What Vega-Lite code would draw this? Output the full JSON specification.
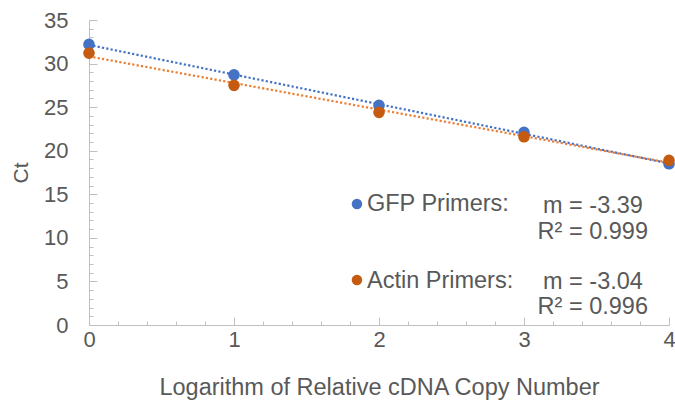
{
  "$schema": "https://vega.github.io/schema/vega-lite/v6.json",
  "width": 580,
  "height": 305,
  "autosize": "none",
  "padding": {"left": 89, "top": 20, "right": 6, "bottom": 75},
  "background": "white",
  "config": {
    "view": {"stroke": null},
    "font": "Liberation Sans",
    "axis": {"grid": false, "domainColor": "#BFBFBF", "tickColor": "#BFBFBF", "labelColor": "#595959", "titleColor": "#595959", "labelFont": "Liberation Sans", "titleFont": "Liberation Sans", "titleFontWeight": "normal", "labelFlush": false}
  },
  "datasets": {
    "pts": [
      {"x": 0, "ct": 32.2, "series": "GFP"},
      {"x": 1, "ct": 28.7, "series": "GFP"},
      {"x": 2, "ct": 25.2, "series": "GFP"},
      {"x": 3, "ct": 22.1, "series": "GFP"},
      {"x": 4, "ct": 18.5, "series": "GFP"},
      {"x": 0, "ct": 31.2, "series": "Actin"},
      {"x": 1, "ct": 27.5, "series": "Actin"},
      {"x": 2, "ct": 24.4, "series": "Actin"},
      {"x": 3, "ct": 21.6, "series": "Actin"},
      {"x": 4, "ct": 18.9, "series": "Actin"}
    ]
  },
  "resolve": {"axis": {"x": "independent", "y": "independent"}},
  "layer": [
    {
      "data": {"name": "pts"},
      "transform": [{"filter": "datum.series === 'GFP'"}, {"regression": "ct", "on": "x", "extent": [0, 4]}],
      "mark": {"type": "line", "color": "#4472C4", "strokeWidth": 2.2, "strokeDash": [2.2, 2.2]},
      "encoding": {
        "x": {"field": "x", "type": "quantitative", "scale": {"domain": [0, 4], "nice": false},
          "axis": {"orient": "bottom", "values": [0.2,0.4,0.6,0.8,1.2,1.4,1.6,1.8,2.2,2.4,2.6,2.8,3.2,3.4,3.6,3.8], "labels": false, "domain": false, "tickSize": -4, "title": null}},
        "y": {"field": "ct", "type": "quantitative", "scale": {"domain": [0, 35], "nice": false},
          "axis": {"orient": "left", "values": [1,2,3,4,6,7,8,9,11,12,13,14,16,17,18,19,21,22,23,24,26,27,28,29,31,32,33,34], "labels": false, "domain": false, "tickSize": -4, "title": null}}
      }
    },
    {
      "data": {"name": "pts"},
      "transform": [{"filter": "datum.series === 'Actin'"}, {"regression": "ct", "on": "x", "extent": [0, 4]}],
      "mark": {"type": "line", "color": "#ED7D31", "strokeWidth": 2.2, "strokeDash": [2.2, 2.2]},
      "encoding": {
        "x": {"field": "x", "type": "quantitative", "axis": null},
        "y": {"field": "ct", "type": "quantitative", "axis": null}
      }
    },
    {
      "data": {"name": "pts"},
      "mark": {"type": "circle", "size": 135, "opacity": 1},
      "encoding": {
        "x": {"field": "x", "type": "quantitative",
          "axis": {"orient": "bottom", "values": [0, 1, 2, 3, 4], "tickSize": -8, "labelFontSize": 22, "labelPadding": 12, "title": "Logarithm of Relative cDNA Copy Number", "titleFontSize": 23.5, "titlePadding": 25}},
        "y": {"field": "ct", "type": "quantitative",
          "axis": {"orient": "left", "values": [0, 5, 10, 15, 20, 25, 30, 35], "tickSize": -8, "labelFontSize": 22, "labelPadding": 29, "title": "Ct", "titleFontSize": 21, "titlePadding": 12}},
        "color": {"field": "series", "type": "nominal", "scale": {"domain": ["GFP", "Actin"], "range": ["#4472C4", "#C55A11"]}, "legend": null}
      }
    },
    {
      "data": {"values": [{"series": "GFP"}]},
      "mark": {"type": "circle", "size": 110, "opacity": 1, "color": "#4472C4"},
      "encoding": {"x": {"datum": 1.848, "type": "quantitative", "axis": null}, "y": {"datum": 13.89, "type": "quantitative", "axis": null}}
    },
    {
      "data": {"values": [{"series": "Actin"}]},
      "mark": {"type": "circle", "size": 110, "opacity": 1, "color": "#C55A11"},
      "encoding": {"x": {"datum": 1.848, "type": "quantitative", "axis": null}, "y": {"datum": 5.16, "type": "quantitative", "axis": null}}
    },
    {
      "data": {"values": [{"t": "GFP Primers:"}]},
      "mark": {"type": "text", "align": "left", "baseline": "middle", "fontSize": 23.5, "color": "#595959"},
      "encoding": {"x": {"datum": 1.917, "type": "quantitative", "axis": null}, "y": {"datum": 13.85, "type": "quantitative", "axis": null}, "text": {"field": "t"}}
    },
    {
      "data": {"values": [{"t": "Actin Primers:"}]},
      "mark": {"type": "text", "align": "left", "baseline": "middle", "fontSize": 23.5, "color": "#595959"},
      "encoding": {"x": {"datum": 1.917, "type": "quantitative", "axis": null}, "y": {"datum": 5.1, "type": "quantitative", "axis": null}, "text": {"field": "t"}}
    },
    {
      "data": {"values": [{"t": "m = -3.39"}]},
      "mark": {"type": "text", "align": "right", "baseline": "middle", "fontSize": 23.5, "color": "#595959"},
      "encoding": {"x": {"datum": 3.82, "type": "quantitative", "axis": null}, "y": {"datum": 13.6, "type": "quantitative", "axis": null}, "text": {"field": "t"}}
    },
    {
      "data": {"values": [{"t": "R² = 0.999"}]},
      "mark": {"type": "text", "align": "right", "baseline": "middle", "fontSize": 23.5, "color": "#595959"},
      "encoding": {"x": {"datum": 3.855, "type": "quantitative", "axis": null}, "y": {"datum": 10.67, "type": "quantitative", "axis": null}, "text": {"field": "t"}}
    },
    {
      "data": {"values": [{"t": "m = -3.04"}]},
      "mark": {"type": "text", "align": "right", "baseline": "middle", "fontSize": 23.5, "color": "#595959"},
      "encoding": {"x": {"datum": 3.82, "type": "quantitative", "axis": null}, "y": {"datum": 4.93, "type": "quantitative", "axis": null}, "text": {"field": "t"}}
    },
    {
      "data": {"values": [{"t": "R² = 0.996"}]},
      "mark": {"type": "text", "align": "right", "baseline": "middle", "fontSize": 23.5, "color": "#595959"},
      "encoding": {"x": {"datum": 3.855, "type": "quantitative", "axis": null}, "y": {"datum": 2.07, "type": "quantitative", "axis": null}, "text": {"field": "t"}}
    }
  ]
}
